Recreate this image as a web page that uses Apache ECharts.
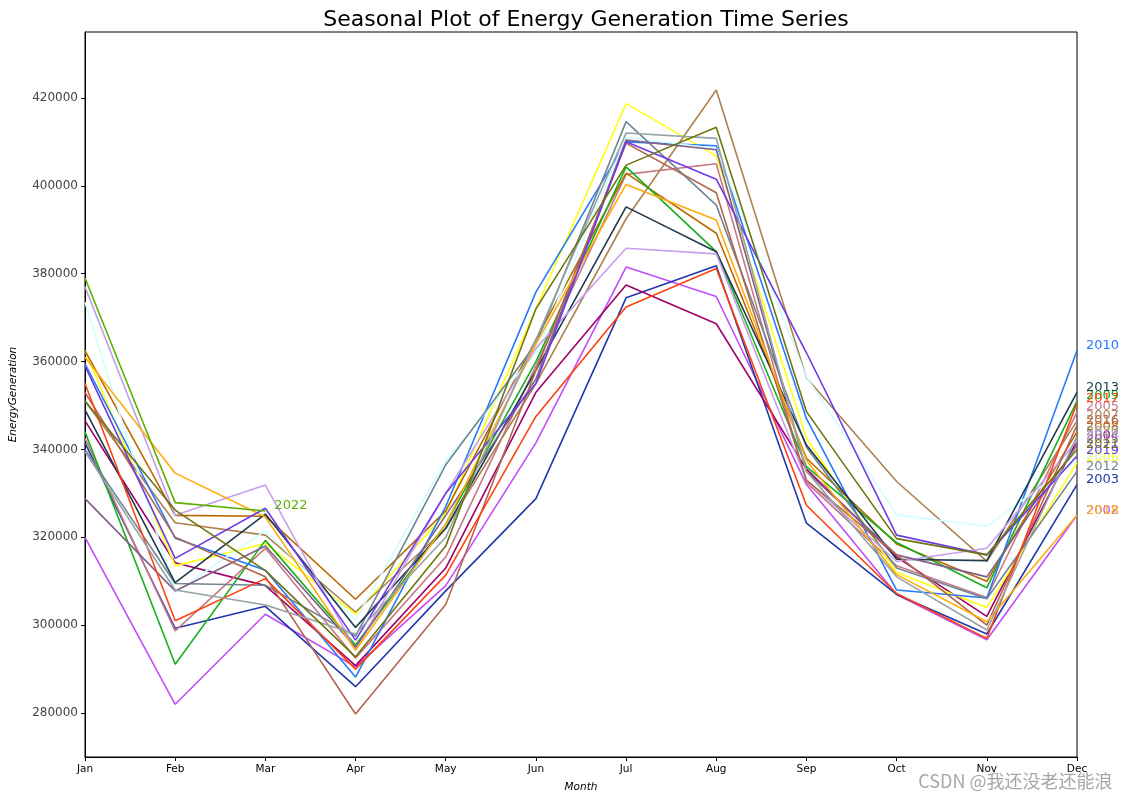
<!DOCTYPE html>
<html>
<head>
<meta charset="utf-8">
<script src="https://cdn.jsdelivr.net/npm/echarts@6/dist/echarts.min.js"></script>
<style>html,body{margin:0;padding:0;background:#fff}#c{width:1128px;height:799px}</style>
</head>
<body>
<div id="c"></div>
<script>
const months = ['Jan','Feb','Mar','Apr','May','Jun','Jul','Aug','Sep','Oct','Nov','Dec'];
const yTicks = [280000,300000,320000,340000,360000,380000,400000,420000];
const years = [2002,2003,2004,2005,2006,2007,2008,2009,2010,2011,2012,2013,2014,2015,2016,2017,2018,2019,2020,2021,2022];
const colors = ['#c04df9','#2138ab','#9e0168','#c77986','#ffff14','#ad8150','#b96902','#15b01a','#247afd','#d0fefe','#708592','#1f3b4d','#c79fef','#825f87','#b0654f','#fe420f','#ffab0f','#703be7','#95a3a6','#6e750e','#5cb200'];

const v2002 = [320000,282000,302500,290500,309000,341500,381500,374800,332000,307000,296700,325000];
const v2003 = [341500,299300,304300,286000,307800,328800,374500,381800,323200,307000,298000,332000];
const v2004 = [346500,314200,309000,290800,313000,353000,377400,368600,335500,315500,302000,342000];
const v2005 = [342500,298700,317500,292500,315500,359000,402600,405000,332500,313500,306300,348500];
const v2006 = [362500,313500,318600,302500,325500,372000,418700,406800,342500,312000,304000,337000];
const v2007 = [351000,323300,320500,303000,322000,355000,392500,421800,356300,332700,314500,346500];
const v2008 = [362500,325000,324800,305900,326000,365000,402900,389200,338000,318500,310000,344000];
const v2009 = [344000,291100,319300,295500,323000,360000,404300,385000,336100,318800,308500,351000];
const v2010 = [359500,319800,312500,288200,327000,375800,410000,409100,347000,308000,306200,362500];
const v2011 = [373500,307500,321500,301200,337500,362000,411000,408500,356500,325100,322500,337500];
const v2012 = [340000,309500,309100,297500,336500,364000,414600,395600,340500,313000,306000,335000];
const v2013 = [349000,309700,325300,299500,322000,358000,395200,385000,341000,315000,314700,353000];
const v2014 = [377000,325000,331900,294500,330000,363000,385800,384500,333000,314500,317500,342000];
const v2015 = [328800,307800,318000,295000,325000,356000,410400,408200,335000,316000,311000,341000];
const v2016 = [353000,320000,311000,279800,304700,358000,409700,398400,333000,316000,300000,345500];
const v2017 = [355000,301000,310600,290000,311400,347500,372400,381200,327300,307200,297000,350500];
const v2018 = [361000,334600,324600,294300,323000,364000,400300,392200,337500,311500,300800,325000];
const v2019 = [359000,315200,326600,296600,330000,355000,410000,401500,362000,320500,316000,338500];
const v2020 = [339500,308000,304600,298000,320000,365000,412000,410800,335000,311000,298900,343000];
const v2021 = [351000,326200,312400,292800,318000,372000,404700,413300,348600,319700,316000,340000];
const v2022 = [379000,327900,326000];

const values = [v2002,v2003,v2004,v2005,v2006,v2007,v2008,v2009,v2010,v2011,v2012,v2013,v2014,v2015,v2016,v2017,v2018,v2019,v2020,v2021,v2022];

const FONT = 'DejaVu Sans';
const series = years.map((y, i) => ({
  name: String(y),
  type: 'line',
  data: values[i],
  showSymbol: false,
  symbol: 'none',
  lineStyle: { width: 1.6, color: colors[i] },
  itemStyle: { color: colors[i] },
  z: 2 + i,
  endLabel: {
    show: true,
    formatter: String(y),
    color: colors[i],
    fontSize: 13,
    fontFamily: FONT,
    distance: 9,
    offset: [0, -5]
  }
}));

const chart = echarts.init(document.getElementById('c'), null, { renderer: 'canvas' });
chart.setOption({
  animation: false,
  backgroundColor: '#fff',
  title: {
    text: 'Seasonal Plot of Energy Generation Time Series',
    left: 581, top: 4, textAlign: 'center',
    textStyle: { fontFamily: FONT, fontSize: 22, fontWeight: 'normal', color: '#000' }
  },
  grid: { left: 85, right: 51, top: 32, bottom: 42, show: true, borderColor: '#000', borderWidth: 1, containLabel: false, outerBoundsMode: 'none' },
  xAxis: {
    type: 'category', data: months, boundaryGap: false,
    name: 'Month', nameLocation: 'middle', nameGap: 25,
    nameTextStyle: { fontFamily: FONT, fontSize: 10.5, fontStyle: 'italic', color: '#000' },
    axisLine: { lineStyle: { color: '#000', width: 1 } },
    axisTick: { show: true, length: 4, lineStyle: { color: '#000' }, alignWithLabel: true },
    axisLabel: { fontFamily: FONT, fontSize: 10.5, color: '#000', margin: 7 },
    splitLine: { show: false }
  },
  yAxis: {
    type: 'value', min: 270000, max: 435000,
    name: 'EnergyGeneration', nameLocation: 'middle', nameGap: 66, nameRotate: 90,
    nameTextStyle: { fontFamily: FONT, fontSize: 10.5, fontStyle: 'italic', color: '#000' },
    axisLine: { show: true, lineStyle: { color: '#000', width: 1 } },
    axisTick: { show: true, length: 4, lineStyle: { color: '#000' }, customValues: yTicks },
    axisLabel: { fontFamily: FONT, fontSize: 12, color: '#444', margin: 7, customValues: yTicks, formatter: v => String(v) },
    splitLine: { show: false }
  },
  graphic: [{
    type: 'text', right: 15, bottom: 8, z: 100,
    style: { text: 'CSDN @我还没老还能浪', fontFamily: '"Noto Sans CJK SC", "DejaVu Sans"', fontSize: 18, fill: 'rgba(150,150,150,0.85)', stroke: '#fff', lineWidth: 1 }
  }],
  series: series
});
</script>
</body>
</html>
